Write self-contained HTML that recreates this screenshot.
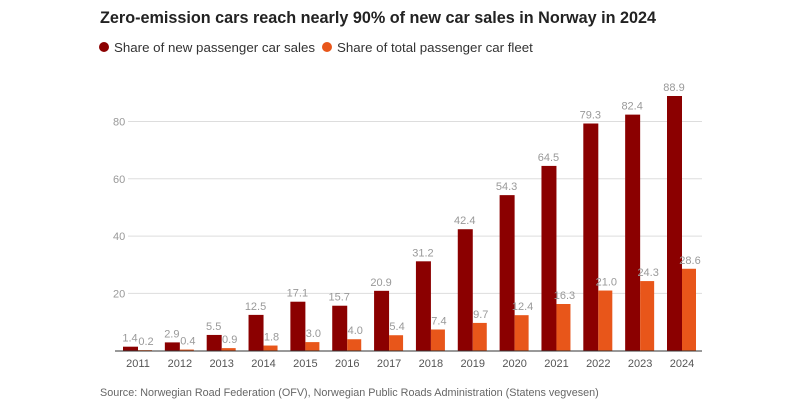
<!DOCTYPE html>
<html><head><meta charset="utf-8"><style>
body{margin:0;background:#fff;width:800px;height:400px;overflow:hidden;font-family:"Liberation Sans",sans-serif}
</style></head><body>
<svg width="800" height="400">
<text x="100" y="23" font-size="16.2" font-weight="bold" fill="#222">Zero-emission cars reach nearly 90% of new car sales in Norway in 2024</text>
<g>
<circle cx="104" cy="47" r="5" fill="#8b0000"/>
<text x="114" y="52" font-size="13.3" fill="#333">Share of new passenger car sales</text>
<circle cx="327" cy="47" r="5" fill="#e8561a"/>
<text x="337" y="52" font-size="13.3" fill="#333">Share of total passenger car fleet</text>
</g>
<g id="plot"></g>
<text x="100" y="396" font-size="10.8" fill="#666">Source: Norwegian Road Federation (OFV), Norwegian Public Roads Administration (Statens vegvesen)</text>
</svg>
<script>
const years=["2011","2012","2013","2014","2015","2016","2017","2018","2019","2020","2021","2022","2023","2024"];
const sales=[1.4,2.9,5.5,12.5,17.1,15.7,20.9,31.2,42.4,54.3,64.5,79.3,82.4,88.9];
const fleet=[0.2,0.4,0.9,1.8,3.0,4.0,5.4,7.4,9.7,12.4,16.3,21.0,24.3,28.6];
const yTicks=[20,40,60,80];
const NS="http://www.w3.org/2000/svg";
const g=document.getElementById('plot');
const y=v=>350.7-v*(57.3/20);
const x=i=>138+i*(682-138)/(years.length-1);
function mk(t,a,txt){const e=document.createElementNS(NS,t);for(const k in a)e.setAttribute(k,a[k]);if(txt!=null)e.textContent=txt;g.appendChild(e);return e;}
yTicks.forEach(t=>{
 const l=mk('line',{x1:128,x2:702,y1:y(t),y2:y(t),stroke:'#ddd','stroke-width':1});
 
 
 const tx=mk('text',{x:113,y:y(t)+4,'font-size':11,fill:'#999'},t);
 
 
});
years.forEach((yr,i)=>{
 const c=x(i);
 const b1=mk('rect',{x:c-15,y:y(sales[i]),width:15,height:y(0)-y(sales[i]),fill:'#8b0000'});
 
 
 const b2=mk('rect',{x:c,y:y(fleet[i]),width:14,height:y(0)-y(fleet[i]),fill:'#e8561a'});
 
 
 const t1=mk('text',{x:c-8,y:y(sales[i])-5,'font-size':11,fill:'#999','text-anchor':'middle'},sales[i].toFixed(1));
 
 
 const t2=mk('text',{x:c+8,y:y(fleet[i])-5,'font-size':11,fill:'#999','text-anchor':'middle'},fleet[i].toFixed(1));
 
 
 const xt=mk('text',{x:c,y:367,'font-size':11,fill:'#555','text-anchor':'middle'},yr);
 
 
});
const ax=mk('line',{x1:115,x2:702,y1:351,y2:351,stroke:'#333','stroke-width':1});


</script>
</body></html>
